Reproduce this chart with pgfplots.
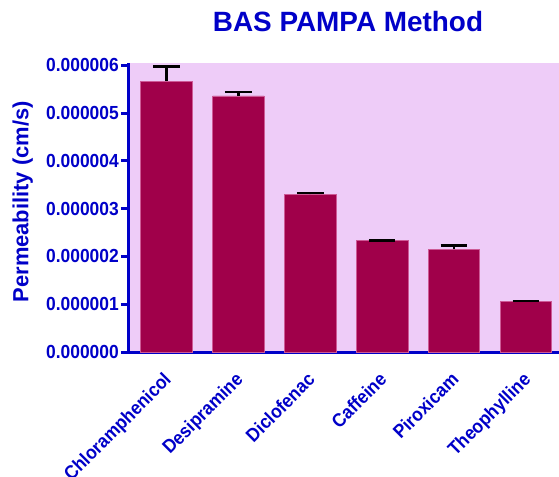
\documentclass[border=0pt]{standalone}
\usepackage{pgfplots}
\pgfplotsset{compat=1.18}
\usepackage{fontspec}
\setmainfont{Liberation Sans}
\newfontfamily\condsans[FakeStretch=0.92]{Liberation Sans}
\definecolor{axblue}{RGB}{0,0,200}
\definecolor{bgpink}{RGB}{238,204,248}
\definecolor{barred}{RGB}{160,0,74}
\definecolor{baredge}{RGB}{205,90,150}
\begin{document}
\begin{tikzpicture}
\begin{axis}[name=ax,
  scale only axis, width=430bp, height=289bp,
  xmin=-0.52, xmax=5.46, ymin=0, ymax=6.05e-6,
  axis x line*=bottom, axis y line*=left,
  axis line style={axblue, line width=3bp, -},
  axis background/.style={fill=bgpink},
  xtick={0,1,2,3,4,5},
  xticklabels={Chloramphenicol,Desipramine,Diclofenac,Caffeine,Piroxicam,Theophylline},
  x tick label style={rotate=45, anchor=north east, xshift=-10.6bp, yshift=-5bp,
    font=\condsans\fontsize{19}{19}\selectfont\bfseries, text=axblue, inner sep=0pt},
  major x tick style={draw=none},
  ytick={0,0.000001,0.000002,0.000003,0.000004,0.000005,0.000006},
  yticklabels={0.000000,0.000001,0.000002,0.000003,0.000004,0.000005,0.000006},
  scaled y ticks=false,
  y tick label style={font=\condsans\fontsize{19}{19}\selectfont\bfseries, text=axblue, inner sep=2pt},
  tick align=outside, major tick length=8bp,
  major y tick style={axblue, line width=3bp},
  ylabel={Permeability (cm/s)},
  ylabel style={font=\fontsize{22}{22}\selectfont\bfseries, text=axblue,
    at={(axis description cs:-0.223,0.52)}, anchor=south, inner sep=0pt},
  title={BAS PAMPA Method},
  title style={font=\fontsize{28}{28}\selectfont\bfseries, text=axblue,
    at={(0.5,1)}, anchor=base, yshift=26bp, xshift=4bp, inner sep=0pt},
]
\addplot[ybar, bar width=0.716, fill=barred, draw=baredge, line width=0.6bp,
  error bars/.cd, y dir=plus, y explicit,
  error bar style={black, line width=2.6bp},
  error mark options={black, rotate=90, mark size=13.3bp, line width=2.6bp}]
  table[x=x, y=y, y error=e] {
x y e
0 0.00000567 0.00000031
1 0.00000536 0.00000008
2 0.00000330 0.00000003
3 0.00000233 0.00000001
4 0.00000215 0.00000008
5 0.00000106 0.00000001
};
\end{axis}
\pgfresetboundingbox
\path[use as bounding box] ([xshift=-129bp,yshift=-125bp]ax.south west) rectangle ([yshift=63bp]ax.north east);
\end{tikzpicture}
\end{document}
